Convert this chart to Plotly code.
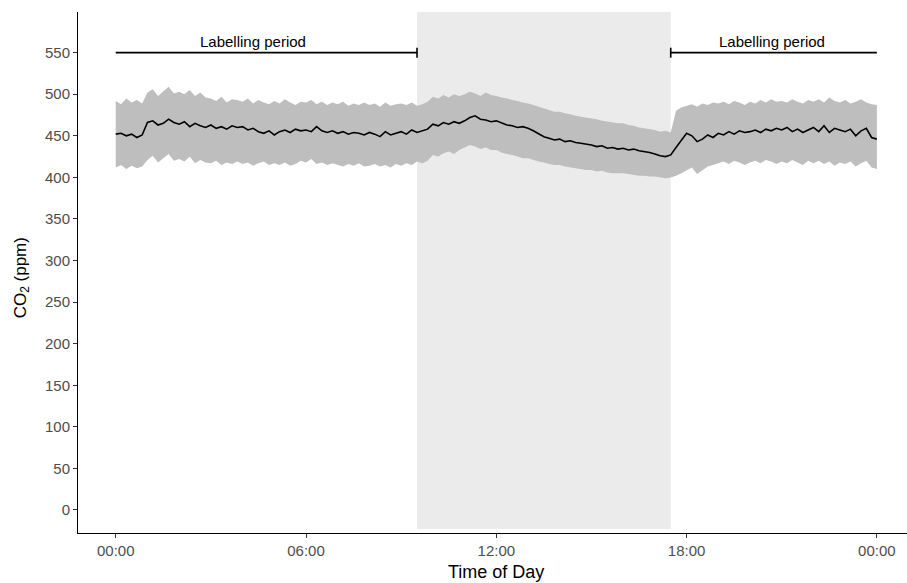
import plotly.graph_objects as go

# Time of day in hours, 10-minute steps from 00:00 to 24:00
hours = [i / 6 for i in range(145)]

# Mean CO2 concentration (ppm)
co2_mean = [
    452, 453, 450, 452, 448, 451,
    466, 468, 463, 465, 470, 466,
    464, 467, 461, 465, 462, 460,
    463, 459, 461, 458, 462, 460,
    461, 457, 459, 455, 453, 456,
    451, 455, 457, 454, 458, 456,
    457, 455, 461, 456, 454, 456,
    453, 455, 452, 454, 453, 451,
    454, 452, 449, 455, 451, 453,
    455, 452, 457, 454, 456, 458,
    464, 462, 466, 464, 467, 465,
    468, 472, 474, 470, 469, 467,
    468, 465, 463, 462, 460, 461,
    459, 456, 452, 449, 447, 445,
    446, 443, 444, 442, 441, 440,
    439, 437, 438, 435, 436, 434,
    435, 433, 434, 432, 431, 430,
    428, 426, 425, 427, 436, 444,
    453, 450, 443, 446, 451, 448,
    453, 451, 455, 452, 456, 454,
    455, 457, 454, 458, 456, 459,
    457, 460, 455, 458, 454, 457,
    460, 455, 462, 454, 459, 457,
    455, 458, 450, 456, 459, 448,
    446,
]

# Upper edge of the variability band (ppm)
co2_upper = [
    492, 488, 495, 490, 493, 489,
    502, 506, 498, 504, 509, 501,
    503, 500, 505, 498, 502, 496,
    495, 492, 497, 490, 494, 493,
    491, 495, 489, 493, 490, 488,
    492, 489, 494, 490, 487, 491,
    490, 493, 488, 491, 487, 490,
    488, 491, 486, 489, 487, 490,
    487, 489, 485, 490, 486, 488,
    489, 487, 490, 486, 488, 491,
    497, 495, 499, 496, 500, 498,
    500, 503, 501, 498, 502, 499,
    498, 496, 495, 493, 492, 490,
    489, 487, 485, 483, 481, 479,
    479, 477, 476, 474, 473, 472,
    471, 470, 468, 467, 466, 465,
    465, 463, 462, 460, 459, 458,
    457, 455, 456, 454, 480, 484,
    486, 488, 485, 489, 487, 490,
    489, 491, 488, 492, 490, 487,
    491, 489, 493, 490, 494, 491,
    492, 490, 494, 491, 489, 493,
    491, 494, 490, 496, 492, 490,
    493, 489, 491, 494, 490, 488,
    487,
]

# Lower edge of the variability band (ppm)
co2_lower = [
    412, 415, 410, 414, 411, 413,
    421, 426, 418, 423, 428, 420,
    422, 419, 425, 417, 421, 418,
    417, 420, 415, 418, 416, 419,
    416, 418, 414, 417, 419, 415,
    417, 415, 418, 414, 416, 420,
    418, 422, 416, 418, 415, 417,
    415, 413, 416, 414, 417, 413,
    414, 416, 413, 415, 412, 416,
    414, 417, 415, 419, 417, 420,
    427, 425, 429, 431, 428, 433,
    436, 439, 437, 434, 436, 433,
    433, 430, 428, 427, 425, 423,
    423, 421, 419, 418, 416, 415,
    415, 413, 412, 411, 410, 409,
    409, 407, 408, 406, 405, 405,
    405, 404, 403, 402, 402, 401,
    401, 400, 399, 400, 402, 405,
    409, 412, 404, 408, 413, 415,
    417, 419, 416, 420, 418, 415,
    418, 420, 417, 421, 419, 416,
    419, 417, 421, 418, 415, 420,
    417, 420, 416, 419, 414, 418,
    416, 419, 413, 417, 420, 412,
    410,
]

# Dark period (shaded) and the two labelling periods
dark_start, dark_end = 9.5, 17.5
label_periods = [(0.0, 9.5, "right"), (17.5, 24.0, "left")]
label_centres = [4.33, 20.69]
label_level = 550
label_text_level = 563
label_text = "Labelling period"

tick_hours = [0, 6, 12, 18, 24]
tick_text = ["00:00", "06:00", "12:00", "18:00", "00:00"]
y_ticks = list(range(0, 551, 50))

FONT = "Liberation Sans, Arial, sans-serif"

fig = go.Figure()

# Variability band
fig.add_trace(go.Scatter(
    x=hours, y=co2_upper, mode="lines", line=dict(width=0),
    hoverinfo="skip", showlegend=False))
fig.add_trace(go.Scatter(
    x=hours, y=co2_lower, mode="lines", line=dict(width=0),
    fill="tonexty", fillcolor="#bebebe", hoverinfo="skip", showlegend=False))

# Mean line
fig.add_trace(go.Scatter(
    x=hours, y=co2_mean, mode="lines", line=dict(color="black", width=1.6),
    showlegend=False))

# Labelling period bars with a cap at the inner end
for (start, end, cap_side), centre in zip(label_periods, label_centres):
    fig.add_trace(go.Scatter(
        x=[start, end], y=[label_level, label_level], mode="lines",
        line=dict(color="black", width=1.6), showlegend=False, hoverinfo="skip"))
    cap_x = end if cap_side == "right" else start
    fig.add_trace(go.Scatter(
        x=[cap_x, cap_x], y=[label_level - 6, label_level + 6], mode="lines",
        line=dict(color="black", width=1.6), showlegend=False, hoverinfo="skip"))
    fig.add_annotation(
        x=centre, y=label_text_level, text=label_text, showarrow=False,
        font=dict(family=FONT, size=15, color="black"), xref="x", yref="y")

# Shaded dark period
fig.add_shape(type="rect", xref="x", yref="y", x0=dark_start, x1=dark_end,
              y0=-23, y1=600, fillcolor="#ebebeb", line=dict(width=0), layer="below")

# Axis titles
fig.add_annotation(
    x=12, y=-0.075, xref="x", yref="paper", xanchor="center", yanchor="middle",
    text="Time of Day", showarrow=False, font=dict(family=FONT, size=18, color="black"))
fig.add_annotation(
    x=-0.068, y=0.49, xref="paper", yref="paper", xanchor="center", yanchor="middle",
    text="CO<sub>2</sub> (ppm)", textangle=-90, showarrow=False,
    font=dict(family=FONT, size=17, color="black"))

fig.update_layout(
    width=907, height=583,
    margin=dict(l=78, r=0, t=12, b=50),
    paper_bgcolor="white", plot_bgcolor="white",
    font=dict(family=FONT),
    showlegend=False,
    xaxis=dict(
        range=[-1.19, 24.95], tickmode="array", tickvals=tick_hours, ticktext=tick_text,
        showgrid=False, zeroline=False, showline=True, linecolor="black", linewidth=1,
        ticks="outside", ticklen=4, tickcolor="#333333", tickwidth=1,
        tickfont=dict(family=FONT, size=15, color="#4d4d4d")),
    yaxis=dict(
        range=[-27.7, 598.9], tickmode="array", tickvals=y_ticks,
        showgrid=False, zeroline=False, showline=True, linecolor="black", linewidth=1,
        ticks="outside", ticklen=4, tickcolor="#333333", tickwidth=1,
        tickfont=dict(family=FONT, size=15, color="#4d4d4d")),
)

fig.write_html("out.html")
